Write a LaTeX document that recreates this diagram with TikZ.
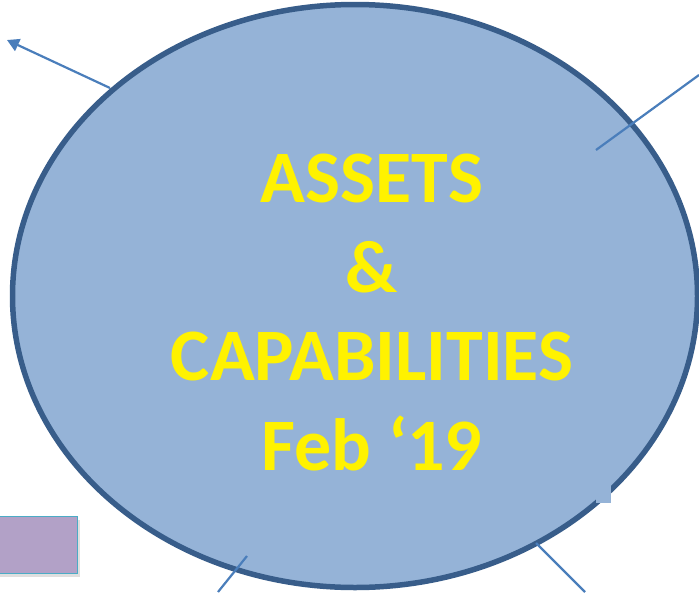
\documentclass[tikz,border=0pt]{standalone}
\usepackage{fontspec}
\setmainfont{Carlito}
\usetikzlibrary{shapes.geometric,arrows.meta,shadows}

\definecolor{ovalfill}{HTML}{95B3D7}
\definecolor{ovalline}{HTML}{385D8A}
\definecolor{linkblue}{HTML}{4A7EBB}
\definecolor{boxfill}{HTML}{B2A1C7}
\definecolor{boxline}{HTML}{4BACC6}

\tikzset{
    link/.style={linkblue, line width=2.2pt},
    title/.style={anchor=base, text=yellow, inner sep=0pt,
        font=\fontsize{74}{89}\selectfont\bfseries}
}

\begin{document}
\begin{tikzpicture}[x=1pt, y=-1pt]
    \useasboundingbox (0,0) rectangle (699,592);

    \node[ellipse, draw=ovalline, line width=5.5pt, fill=ovalfill, inner sep=0pt,
        minimum width=685pt, minimum height=583pt] (assets) at (355,296) {};
    \fill[ovalfill] (596,484) rectangle (611,503);

    \node[title] (ln1) at (372,202) {ASSETS};
    \node[title] (ln2) at (372,292) {\&};
    \node[title] (ln3) at (372,380) {CAPABILITIES};
    \node[title] (ln4) at (372,470) {Feb ‘19};

    \node[draw=boxline, line width=1.2pt, fill=boxfill, inner sep=0pt,
        minimum width=80pt, minimum height=57pt, anchor=north west,
        drop shadow={shadow xshift=2pt, shadow yshift=-3pt, opacity=0.25}] (box) at (-3,516) {};

    % spokes
    \coordinate (nw) at (7,40);
    \coordinate (nwin) at (110,88);
    \coordinate (ne) at (699,75);
    \coordinate (nein) at (596,150);
    \coordinate (sw) at (218,592);
    \coordinate (swin) at (247,556);
    \coordinate (se) at (585,592);
    \coordinate (sein) at (536,543);

    \draw[link, -{Triangle[length=12pt, width=13pt]}] (nwin) -- (nw);
    \draw[link] (nein) -- (ne);
    \draw[link] (swin) -- (sw);
    \draw[link] (sein) -- (se);
\end{tikzpicture}
\end{document}
